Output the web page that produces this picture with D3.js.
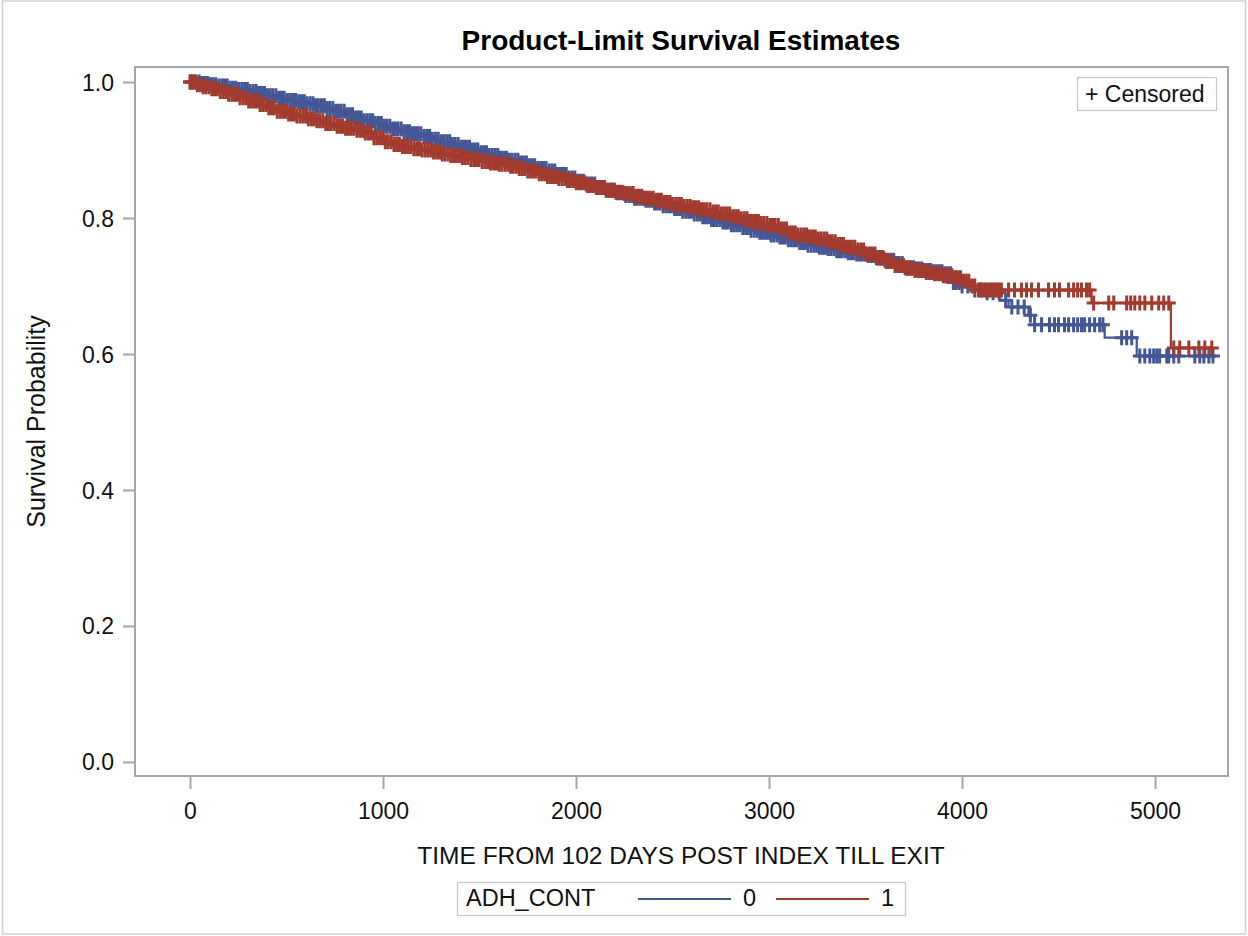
<!DOCTYPE html>
<html><head><meta charset="utf-8">
<script src="https://cdn.jsdelivr.net/npm/d3@7"></script>
<style>body{margin:0;background:#fff;} text{font-family:"Liberation Sans",Arial,sans-serif;}</style>
</head><body><svg id="c" width="1248" height="936"></svg>
<script>
// ---- data ----
const groups = ["0", "1"];
const xTicks = [0, 1000, 2000, 3000, 4000, 5000];
const yTicks = [0.0, 0.2, 0.4, 0.6, 0.8, 1.0];
// Group 0 (blue) step function: event times and survival after each
const blueTime = [0, 50, 100, 150, 200, 250, 300, 350, 400, 450, 500, 550, 600, 650, 700, 750, 800, 850, 900, 950, 1000, 1050, 1100, 1150, 1200, 1250, 1300, 1350, 1400, 1450, 1500, 1550, 1600, 1650, 1700, 1750, 1800, 1850, 1900, 1950, 2000, 2050, 2100, 2150, 2200, 2250, 2300, 2350, 2400, 2450, 2500, 2550, 2600, 2650, 2700, 2750, 2800, 2850, 2900, 2950, 3000, 3050, 3100, 3150, 3200, 3250, 3300, 3350, 3400, 3450, 3500, 3550, 3600, 3650, 3700, 3750, 3800, 3850, 3900, 3950, 4000, 4050, 4100, 4194, 4241, 4344, 4376, 4739, 4905];
const blueSurv = [1.000, 0.998, 0.996, 0.994, 0.991, 0.989, 0.986, 0.983, 0.980, 0.976, 0.973, 0.971, 0.968, 0.965, 0.961, 0.957, 0.952, 0.947, 0.943, 0.939, 0.935, 0.931, 0.927, 0.924, 0.920, 0.916, 0.912, 0.908, 0.904, 0.900, 0.896, 0.892, 0.888, 0.885, 0.881, 0.877, 0.873, 0.869, 0.864, 0.859, 0.854, 0.850, 0.845, 0.841, 0.837, 0.833, 0.829, 0.826, 0.822, 0.818, 0.814, 0.810, 0.806, 0.802, 0.798, 0.794, 0.790, 0.786, 0.782, 0.779, 0.775, 0.772, 0.768, 0.764, 0.760, 0.757, 0.755, 0.752, 0.749, 0.747, 0.745, 0.742, 0.738, 0.733, 0.727, 0.725, 0.723, 0.721, 0.718, 0.705, 0.700, 0.694, 0.690, 0.679, 0.669, 0.657, 0.643, 0.624, 0.597];
// Group 1 (red)
const redTime = [0, 30, 60, 100, 150, 200, 250, 300, 350, 400, 450, 500, 550, 600, 650, 700, 750, 800, 850, 900, 950, 1000, 1050, 1100, 1150, 1200, 1250, 1300, 1350, 1400, 1450, 1500, 1550, 1600, 1650, 1700, 1750, 1800, 1850, 1900, 1950, 2000, 2050, 2100, 2150, 2200, 2250, 2300, 2350, 2400, 2450, 2500, 2550, 2600, 2650, 2700, 2750, 2800, 2850, 2900, 2950, 3000, 3050, 3100, 3150, 3200, 3250, 3300, 3350, 3400, 3450, 3500, 3550, 3600, 3650, 3700, 3750, 3800, 3850, 3900, 3950, 4000, 4050, 4085, 4671, 5082];
const redSurv = [1.000, 0.996, 0.993, 0.990, 0.986, 0.982, 0.977, 0.972, 0.967, 0.962, 0.957, 0.953, 0.950, 0.946, 0.943, 0.939, 0.935, 0.932, 0.929, 0.925, 0.918, 0.912, 0.908, 0.905, 0.902, 0.900, 0.897, 0.894, 0.892, 0.889, 0.886, 0.883, 0.881, 0.879, 0.876, 0.873, 0.869, 0.865, 0.861, 0.858, 0.855, 0.852, 0.848, 0.845, 0.841, 0.838, 0.836, 0.832, 0.829, 0.826, 0.823, 0.820, 0.817, 0.815, 0.812, 0.809, 0.806, 0.802, 0.799, 0.795, 0.792, 0.789, 0.784, 0.778, 0.775, 0.772, 0.769, 0.765, 0.761, 0.757, 0.753, 0.747, 0.741, 0.736, 0.730, 0.726, 0.723, 0.720, 0.718, 0.715, 0.712, 0.707, 0.700, 0.694, 0.675, 0.609];
// censored observation times
const blueCens = [2, 16, 31, 47, 61, 75, 91, 106, 120, 134, 150, 165, 179, 193, 209, 224, 238, 252, 268, 283, 297, 311, 327, 342, 356, 370, 386, 401, 415, 429, 445, 460, 474, 488, 504, 519, 533, 547, 563, 578, 592, 606, 622, 637, 651, 665, 681, 696, 710, 724, 740, 755, 769, 783, 799, 814, 828, 842, 858, 873, 887, 901, 917, 932, 946, 960, 976, 991, 1005, 1019, 1035, 1050, 1064, 1078, 1094, 1109, 1123, 1137, 1153, 1168, 1182, 1196, 1212, 1227, 1241, 1255, 1271, 1286, 1300, 1314, 1330, 1345, 1359, 1373, 1389, 1404, 1418, 1432, 1448, 1463, 1477, 1491, 1507, 1522, 1536, 1550, 1566, 1581, 1595, 1609, 1625, 1640, 1654, 1668, 1684, 1699, 1713, 1727, 1743, 1758, 1772, 1786, 1802, 1817, 1831, 1845, 1861, 1876, 1890, 1904, 1920, 1935, 1949, 1963, 1979, 1994, 2008, 2022, 2038, 2053, 2067, 2081, 2097, 2112, 2126, 2140, 2156, 2171, 2185, 2199, 2215, 2230, 2244, 2258, 2274, 2289, 2303, 2317, 2333, 2348, 2362, 2376, 2392, 2407, 2421, 2435, 2451, 2466, 2480, 2494, 2510, 2525, 2539, 2553, 2569, 2584, 2598, 2612, 2628, 2643, 2657, 2671, 2687, 2702, 2716, 2730, 2746, 2761, 2775, 2789, 2805, 2820, 2834, 2848, 2864, 2879, 2893, 2907, 2923, 2938, 2952, 2966, 2982, 2997, 3011, 3025, 3041, 3056, 3070, 3084, 3100, 3115, 3129, 3143, 3159, 3174, 3188, 3202, 3218, 3233, 3247, 3261, 3277, 3292, 3306, 3320, 3336, 3351, 3365, 3379, 3395, 3410, 3424, 3438, 3454, 3469, 3483, 3497, 3513, 3528, 3542, 3556, 3572, 3587, 3601, 3615, 3631, 3646, 3660, 3674, 3690, 3705, 3719, 3733, 3749, 3764, 3778, 3792, 3808, 3823, 3837, 3851, 3867, 3882, 3896, 3910, 3926, 3941, 3955, 3969, 3985, 4000, 4030, 4066, 4098, 4130, 4161, 4193, 4226, 4258, 4290, 4322, 4354, 4376, 4412, 4453, 4479, 4500, 4531, 4552, 4578, 4599, 4619, 4635, 4661, 4687, 4713, 4730, 4827, 4853, 4879, 4921, 4947, 4973, 4993, 5009, 5024, 5061, 5071, 5097, 5123, 5206, 5232, 5253, 5279, 5300];
const redCens = [0, 9, 23, 38, 54, 68, 82, 98, 113, 127, 141, 157, 172, 186, 200, 216, 231, 245, 259, 275, 290, 304, 318, 334, 349, 363, 377, 393, 408, 422, 436, 452, 467, 481, 495, 511, 526, 540, 554, 570, 585, 599, 613, 629, 644, 658, 672, 688, 703, 717, 731, 747, 762, 776, 790, 806, 821, 835, 849, 865, 880, 894, 908, 924, 939, 953, 967, 983, 998, 1012, 1026, 1042, 1057, 1071, 1085, 1101, 1116, 1130, 1144, 1160, 1175, 1189, 1203, 1219, 1234, 1248, 1262, 1278, 1293, 1307, 1321, 1337, 1352, 1366, 1380, 1396, 1411, 1425, 1439, 1455, 1470, 1484, 1498, 1514, 1529, 1543, 1557, 1573, 1588, 1602, 1616, 1632, 1647, 1661, 1675, 1691, 1706, 1720, 1734, 1750, 1765, 1779, 1793, 1809, 1824, 1838, 1852, 1868, 1883, 1897, 1911, 1927, 1942, 1956, 1970, 1986, 2001, 2015, 2029, 2045, 2060, 2074, 2088, 2104, 2119, 2133, 2147, 2163, 2178, 2192, 2206, 2222, 2237, 2251, 2265, 2281, 2296, 2310, 2324, 2340, 2355, 2369, 2383, 2399, 2414, 2428, 2442, 2458, 2473, 2487, 2501, 2517, 2532, 2546, 2560, 2576, 2591, 2605, 2619, 2635, 2650, 2664, 2678, 2694, 2709, 2723, 2737, 2753, 2768, 2782, 2796, 2812, 2827, 2841, 2855, 2871, 2886, 2900, 2914, 2930, 2945, 2959, 2973, 2989, 3004, 3018, 3032, 3048, 3063, 3077, 3091, 3107, 3122, 3136, 3150, 3166, 3181, 3195, 3209, 3225, 3240, 3254, 3268, 3284, 3299, 3313, 3327, 3343, 3358, 3372, 3386, 3402, 3417, 3431, 3445, 3461, 3476, 3490, 3504, 3520, 3535, 3549, 3563, 3579, 3594, 3608, 3622, 3638, 3653, 3667, 3681, 3697, 3712, 3726, 3740, 3756, 3771, 3785, 3799, 3815, 3830, 3844, 3858, 3874, 3889, 3903, 3917, 3933, 3948, 3962, 3976, 3992, 4007, 4021, 4035, 4051, 4066, 4085, 4100, 4115, 4126, 4140, 4152, 4165, 4178, 4190, 4204, 4241, 4272, 4308, 4334, 4360, 4396, 4448, 4479, 4505, 4552, 4578, 4599, 4619, 4645, 4661, 4682, 4760, 4786, 4853, 4874, 4895, 4921, 4947, 4983, 5019, 5045, 5071, 5097, 5128, 5175, 5227, 5258, 5294];

const colors = {"0": "#445694", "1": "#a23a2e"};

// ---- layout ----
const svg = d3.select("#c");
const L = 135, T = 67, R = 1228, B = 776;
const x = d3.scaleLinear().domain([-285, 5378]).range([L, R]);
const y = d3.scaleLinear().domain([-0.0206, 1.0221]).range([B, T]);

svg.append("rect").attr("x", 2.5).attr("y", 1).attr("width", 1243).attr("height", 933)
  .attr("fill", "#fff").attr("stroke", "#d0d0d0").attr("stroke-width", 1.5);

svg.append("text").attr("x", 681).attr("y", 50).attr("text-anchor", "middle")
  .attr("font-size", 28).attr("font-weight", "bold").attr("fill", "#000")
  .text("Product-Limit Survival Estimates");

const axisCol = "#a2a7ac";
const gx = svg.append("g").attr("transform", `translate(0,${B})`)
  .call(d3.axisBottom(x).tickValues(xTicks).tickSize(13).tickSizeOuter(0).tickFormat(d3.format("d")));
const gy = svg.append("g").attr("transform", `translate(${L},0)`)
  .call(d3.axisLeft(y).tickValues(yTicks).tickSize(12).tickSizeOuter(0).tickFormat(d3.format(".1f")));
[gx, gy].forEach(g => {
  g.select(".domain").remove();
  g.selectAll(".tick line").attr("stroke", axisCol).attr("stroke-width", 2);
  g.selectAll(".tick text").attr("font-size", 23).attr("fill", "#111")
    .attr("font-family", "'Liberation Sans',Arial,sans-serif");
});
gx.selectAll(".tick text").attr("dy", null).attr("y", 43);
gy.selectAll(".tick text").attr("dy", null).attr("x", -21).attr("y", 8);

svg.append("rect").attr("x", L).attr("y", T).attr("width", R - L).attr("height", B - T)
  .attr("fill", "none").attr("stroke", axisCol).attr("stroke-width", 2);

svg.append("text").attr("x", 681).attr("y", 864).attr("text-anchor", "middle")
  .attr("font-size", 24.5).attr("fill", "#111").text("TIME FROM 102 DAYS POST INDEX TILL EXIT");
svg.append("text").attr("transform", `translate(45,${(T + B) / 2}) rotate(-90)`)
  .attr("text-anchor", "middle").attr("font-size", 25).attr("fill", "#111").text("Survival Probability");

// ---- curves ----
const plot = svg.append("g");
function drawGroup(times, surv, cens, col) {
  const last = d3.max(cens);
  const pts = times.map((t, i) => [t, surv[i]]);
  pts.push([last, surv[surv.length - 1]]);
  const line = d3.line().x(d => x(d[0])).y(d => y(d[1])).curve(d3.curveStepAfter);
  plot.append("path").attr("d", line(pts)).attr("fill", "none").attr("stroke", col).attr("stroke-width", 2.2);
  const survAt = t => surv[Math.max(0, d3.bisectRight(times, t) - 1)];
  plot.append("g").selectAll("path").data(cens).join("path")
    .attr("transform", d => `translate(${x(d)},${y(survAt(d))})`)
    .attr("d", "M-7,0H7M0,-7.5V7.5").attr("stroke", col).attr("stroke-width", 3).attr("fill", "none");
}
drawGroup(blueTime, blueSurv, blueCens, colors["0"]);
drawGroup(redTime, redSurv, redCens, colors["1"]);

// censored legend
svg.append("rect").attr("x", 1077.5).attr("y", 77.5).attr("width", 139).attr("height", 33)
  .attr("fill", "#fff").attr("stroke", "#c8c8c8").attr("stroke-width", 1.2);
svg.append("text").attr("x", 1085).attr("y", 102).attr("font-size", 23).attr("fill", "#111").text("+ Censored");

// group legend
svg.append("rect").attr("x", 457.5).attr("y", 882.5).attr("width", 448).attr("height", 33)
  .attr("fill", "#fff").attr("stroke", "#c8c8c8").attr("stroke-width", 1.2);
svg.append("text").attr("x", 466).attr("y", 906).attr("font-size", 23.5).attr("fill", "#111").text("ADH_CONT");
const legX = [638, 776];
groups.forEach((g, i) => {
  svg.append("line").attr("x1", legX[i]).attr("x2", legX[i] + 93).attr("y1", 899).attr("y2", 899)
    .attr("stroke", colors[g]).attr("stroke-width", 2);
  svg.append("text").attr("x", legX[i] + 105).attr("y", 906).attr("font-size", 23.5).attr("fill", "#111").text(g);
});
</script></body></html>
